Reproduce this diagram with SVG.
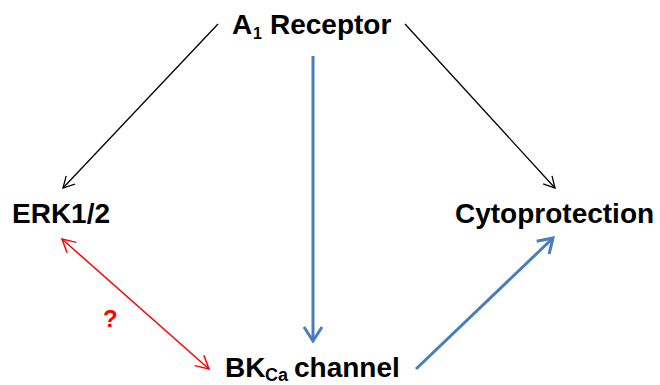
<svg xmlns="http://www.w3.org/2000/svg" width="660" height="385" viewBox="0 0 660 385">
<style>
.lbl{font-family:"Liberation Sans",Arial,sans-serif;font-weight:bold;font-size:28px;fill:#000}
.sub{font-size:16px}
.sub2{font-size:18px}
.q{font-family:"Liberation Sans",Arial,sans-serif;font-weight:bold;font-size:24px;fill:#ff0000}
.blk{stroke:#000;stroke-width:1.3;fill:none}
.red{stroke:#ff0000;stroke-width:1.5;fill:none}
.blu{stroke:#4a7ebb;stroke-width:3;fill:none}
</style>
<defs>
<marker id="hb" markerUnits="userSpaceOnUse" viewBox="-14 -8 16 16" refX="0" refY="0" markerWidth="16" markerHeight="16" orient="auto">
<path d="M-11,-6 L0,0 L-11,6" stroke="#000" stroke-width="1.3" fill="none"/>
</marker>
<marker id="hr" markerUnits="userSpaceOnUse" viewBox="-16 -9 18 18" refX="0" refY="0" markerWidth="18" markerHeight="18" orient="auto-start-reverse">
<path d="M-13,-7 L0,0 L-13,7" stroke="#ff0000" stroke-width="1.5" fill="none"/>
</marker>
<marker id="hu" markerUnits="userSpaceOnUse" viewBox="-18 -11 21 22" refX="0" refY="0" markerWidth="21" markerHeight="22" orient="auto">
<path d="M-14,-9 L0,0 L-14,9" stroke="#4a7ebb" stroke-width="3" fill="none"/>
</marker>
</defs>
<g id="connectors">
<line class="blk" x1="218" y1="24" x2="63" y2="188" marker-end="url(#hb)"/>
<line class="blk" x1="405" y1="24" x2="555" y2="188" marker-end="url(#hb)"/>
<line class="blu" x1="313" y1="56" x2="313" y2="341" marker-end="url(#hu)"/>
<line class="blu" x1="416" y1="369" x2="553" y2="238" marker-end="url(#hu)"/>
<line class="red" x1="62" y1="239" x2="209" y2="369" marker-start="url(#hr)" marker-end="url(#hr)"/>
<text class="q" x="103" y="327">?</text>
</g>
<g id="a1receptor">
<text class="lbl" x="232" y="34">A<tspan class="sub" x="253" y="39">1</tspan><tspan x="270" y="34">Receptor</tspan></text>
</g>
<g id="erk">
<text class="lbl" x="12" y="223">ERK1/2</text>
</g>
<g id="cytoprotection">
<text class="lbl" x="455" y="223">Cytoprotection</text>
</g>
<g id="bkca">
<text class="lbl" x="225" y="377">BK<tspan class="sub2" x="265" y="381">Ca</tspan><tspan x="294" y="377">channel</tspan></text>
</g>
</svg>
